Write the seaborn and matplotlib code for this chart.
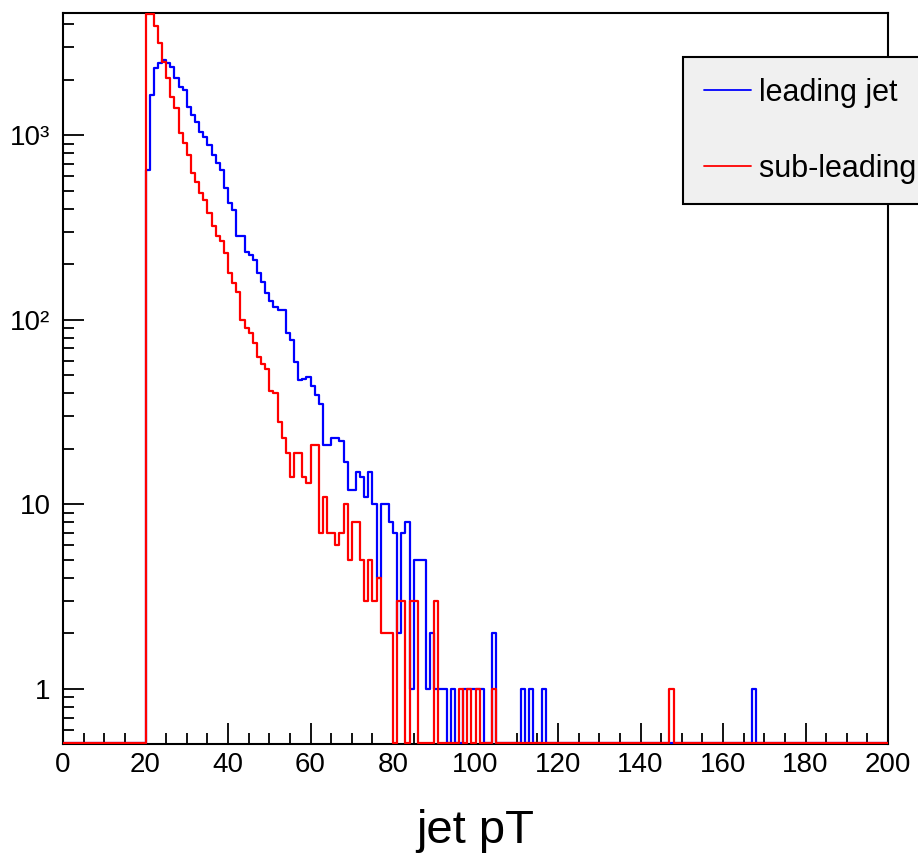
import numpy as np
import pandas as pd
import matplotlib
matplotlib.use("Agg")
import matplotlib.pyplot as plt
from matplotlib.ticker import FixedLocator, NullFormatter
import seaborn as sns

# ---------------- data (counts per 1-GeV bin) ----------------
first_bin = 20  # the lists below start at the 20-21 bin
lead_counts = [
    650, 1660, 2320, 2470, 2560, 2470, 2350, 2050, 1830, 1770,   # 20-29
    1430, 1290, 1180, 1045, 982, 888, 784, 707, 650, 517,         # 30-39
    429, 395, 283, 283, 234, 225, 211, 179, 160, 140,             # 40-49
    126, 118, 113, 113, 85, 78, 59, 47, 48, 49,                   # 50-59
    44, 39, 35, 21, 21, 23, 23, 22, 17, 12,                       # 60-69
    12, 15, 14, 11, 15, 10, 4, 10, 10, 8,                         # 70-79
    7, 2, 7, 8, 1, 5, 5, 5, 1, 2,                                 # 80-89
    1, 1, 1, 0, 1, 0, 0, 1, 1, 1,                                 # 90-99
    1, 1, 0, 0, 2, 0, 0, 0, 0, 0,                                 # 100-109
    0, 1, 0, 1, 0, 0, 1, 0, 0, 0,                                 # 110-119
]
sub_counts = [
    6500, 5000, 3890, 3160, 2510, 2040, 1620, 1410, 1030, 910,   # 20-29
    784, 626, 560, 488, 447, 379, 321, 283, 266, 230,             # 30-39
    179, 159, 142, 100, 90, 85, 75, 63, 58, 54,                   # 40-49
    41, 40, 28, 23, 19, 14, 19, 19, 14, 13,                       # 50-59
    21, 21, 7, 11, 7, 7, 6, 7, 10, 5,                             # 60-69
    8, 8, 5, 3, 5, 3, 4, 2, 2, 2,                                 # 70-79
    0, 3, 3, 0, 3, 3, 0, 0, 0, 0,                                 # 80-89
    3, 0, 0, 0, 0, 0, 1, 0, 1, 0,                                 # 90-99
    1, 0, 0, 0, 1, 0, 0, 0, 0, 0,                                 # 100-109
    0, 0, 0, 0, 0, 0, 0, 0, 0, 0,                                 # 110-119
]
lead_tail_bins = [167]
lead_tail_counts = [1]
sub_tail_bins = [147]
sub_tail_counts = [1]

series_names = ["leading jet", "sub-leading jet"]
series_colors = ["#0000ff", "#ff0000"]
x_ticks = [0, 20, 40, 60, 80, 100, 120, 140, 160, 180, 200]
y_ticks = [1, 10, 100, 1000]
y_tick_labels = ["1", "10", "10\u00b2", "10\u00b3"]
x_label = "jet pT"

# ---------------- build full histograms ----------------
n_bins = 200
centers = np.arange(n_bins) + 0.5


def full_counts(main, tail_bins, tail_counts):
    c = np.zeros(n_bins)
    c[first_bin:first_bin + len(main)] = main
    for b, v in zip(tail_bins, tail_counts):
        c[b] = v
    return c


lead_full = full_counts(lead_counts, lead_tail_bins, lead_tail_counts)
sub_full = full_counts(sub_counts, sub_tail_bins, sub_tail_counts)

df = pd.DataFrame({
    "pt": np.concatenate([centers, centers]),
    "count": np.concatenate([lead_full, sub_full]),
    "series": [series_names[0]] * n_bins + [series_names[1]] * n_bins,
})

# ---------------- style ----------------
sns.set_style("white")
plt.rcParams["font.family"] = ["Liberation Sans", "DejaVu Sans"]
plt.rcParams["xtick.direction"] = "in"
plt.rcParams["ytick.direction"] = "in"
plt.rcParams["text.color"] = "black"
plt.rcParams["axes.labelcolor"] = "black"
plt.rcParams["xtick.color"] = "black"
plt.rcParams["ytick.color"] = "black"

W, H = 918, 865
fig = plt.figure(figsize=(W / 100, H / 100), dpi=100)
ax = fig.add_axes([63 / W, 1 - 744 / H, (888 - 63) / W, (744 - 13) / H])

YMIN, YMAX = 0.503, 4600
# bins outside the visible range are drawn along the frame, as ROOT does
FLOOR, CEIL = 0.507, 4570

for name, color in zip(series_names, series_colors):
    sub = df[df["series"] == name]
    n_before = len(ax.lines)
    sns.histplot(data=sub, x="pt", weights="count", binwidth=1, binrange=(0, 200),
                 element="step", fill=False, color=color, linewidth=1.6,
                 ax=ax)
    for ln in ax.lines[n_before:]:
        y = np.asarray(ln.get_ydata(), dtype=float)
        ln.set_ydata(np.clip(y, FLOOR, CEIL))
        ln.set_zorder(3)
        ln.set_label(name)

ax.set_yscale("log")
ax.set_xlim(0, 200)
ax.set_ylim(YMIN, YMAX)

# ticks
ax.xaxis.set_major_locator(FixedLocator(x_ticks))
ax.xaxis.set_minor_locator(FixedLocator([v for v in range(0, 201, 5) if v % 20]))
ax.set_xticklabels([str(v) for v in x_ticks])
minor_y = [m * 10.0 ** e for e in range(-1, 4) for m in range(2, 10)]
minor_y = [v for v in minor_y if YMIN <= v <= YMAX]
ax.yaxis.set_major_locator(FixedLocator(y_ticks))
ax.yaxis.set_minor_locator(FixedLocator(minor_y))
ax.yaxis.set_minor_formatter(NullFormatter())
ax.set_yticklabels(y_tick_labels)
ax.tick_params(axis="both", which="both", bottom=True, left=True,
               top=False, right=False, direction="in", color="black",
               labelcolor="black")
ax.tick_params(axis="both", which="major", length=15, width=1.3, labelsize=20)
ax.tick_params(axis="both", which="minor", length=8, width=1.3)
ax.tick_params(axis="x", which="major", pad=6)
ax.tick_params(axis="y", which="major", pad=9)

for s in ax.spines.values():
    s.set_color("black")
    s.set_linewidth(1.5)
    s.set_zorder(2.5)

ax.set_xlabel(x_label, fontsize=34, labelpad=22, color="black")
ax.set_ylabel("")

fs = 22
leg = ax.legend(loc="upper left", bbox_to_anchor=(683 / W, 1 - 57 / H),
                bbox_transform=fig.transFigure, borderaxespad=0,
                fontsize=fs, frameon=True, fancybox=False,
                borderpad=0.68, handlelength=1.55, handletextpad=0.26,
                handleheight=0.7, labelspacing=1.5)
leg.get_frame().set_facecolor("#f0f0f0")
leg.get_frame().set_edgecolor("black")
leg.get_frame().set_linewidth(1.5)
leg.get_frame().set_alpha(1)
for h in leg.legend_handles:
    h.set_linewidth(1.3)
for t in leg.get_texts():
    t.set_color("black")

fig.savefig("out.png", dpi=100)
